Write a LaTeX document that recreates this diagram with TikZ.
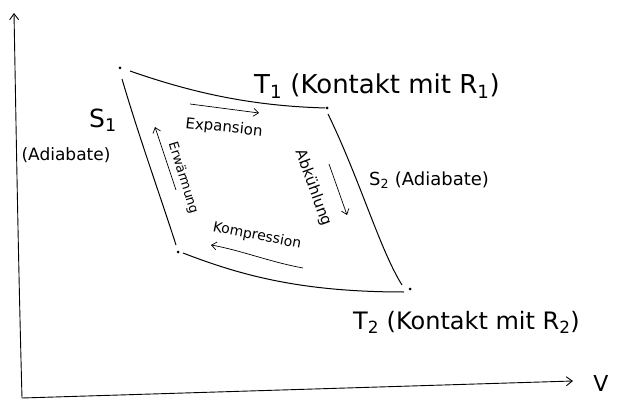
\documentclass[tikz,border=0pt]{standalone}
\usepackage{fontspec}
\setmainfont{DejaVu Sans}
\usetikzlibrary{arrows.meta}
\newcommand{\fs}[1]{\fontsize{#1}{#1}\selectfont}
\begin{document}
\begin{tikzpicture}[x=1pt,y=-1pt,
  lbl/.style={inner sep=1pt},
  curve/.style={line width=1pt,black},
  axis/.style={line width=0.9pt,-{Straight Barb[length=6pt,width=9pt]}},
  flow/.style={line width=0.7pt,-{Straight Barb[length=5pt,width=8pt]}},
  pt/.style={circle,fill=black,inner sep=0pt,minimum size=3pt}]
\useasboundingbox (0,0) rectangle (621,406);
% axes
\coordinate (O) at (22,398);
\coordinate (Ytop) at (14,13);
\coordinate (Xend) at (573,381);
\node[lbl,font=\fs{22}] (V) at (601,383) {V};
\draw[axis] (O) .. controls (18,250) and (16,120) .. (Ytop);
\draw[axis] (O) -- (Xend);
% corner points
\node[pt] (A) at (120,68) {};
\node[pt] (B) at (327,108) {};
\node[pt] (C) at (410,289) {};
\node[pt] (D) at (178,252) {};
% cycle
\draw[curve] (130,71) .. controls (190,92) and (250,106) .. (B);
\draw[curve] (122,79) .. controls (140,140) and (160,195) .. (176,245);
\draw[curve] (328,114) .. controls (360,180) and (380,250) .. (402,285);
\draw[curve] (183,253) .. controls (240,275) and (300,292) .. (404,292);
% labels
\node[lbl,font=\fs{26},anchor=west] (T1) at (253,86) {T\textsubscript{1} (Kontakt mit R\textsubscript{1})};
\node[lbl,font=\fs{25}] (S1) at (103,120) {S\textsubscript{1}};
\node[lbl,font=\fs{17}] (Ad1) at (66,155) {(Adiabate)};
\node[lbl,font=\fs{18},anchor=west] (S2) at (368,180) {S\textsubscript{2} (Adiabate)};
\node[lbl,font=\fs{24},anchor=west] (T2) at (352,322) {T\textsubscript{2} (Kontakt mit R\textsubscript{2})};
\node[lbl,font=\fs{15},rotate=-6] (Exp) at (224,128) {Expansion};
\node[lbl,font=\fs{13},rotate=-73] (Erw) at (183,178) {Erwärmung};
\node[lbl,font=\fs{15},rotate=-70] (Abk) at (313,188) {Abkühlung};
\node[lbl,font=\fs{14},rotate=-11] (Kom) at (257,236) {Kompression};
% process arrows
\coordinate (e1) at (190,104); \coordinate (e2) at (259,113);
\coordinate (w1) at (176,190); \coordinate (w2) at (155,127);
\coordinate (a1) at (329,164); \coordinate (a2) at (347,215);
\coordinate (k1) at (303,268); \coordinate (k2) at (211,245);
\draw[flow] (e1) -- (e2);
\draw[flow] (w1) -- (w2);
\draw[flow] (a1) -- (a2);
\draw[flow] (k1) .. controls (270,262) and (240,250) .. (k2);
\end{tikzpicture}
\end{document}
